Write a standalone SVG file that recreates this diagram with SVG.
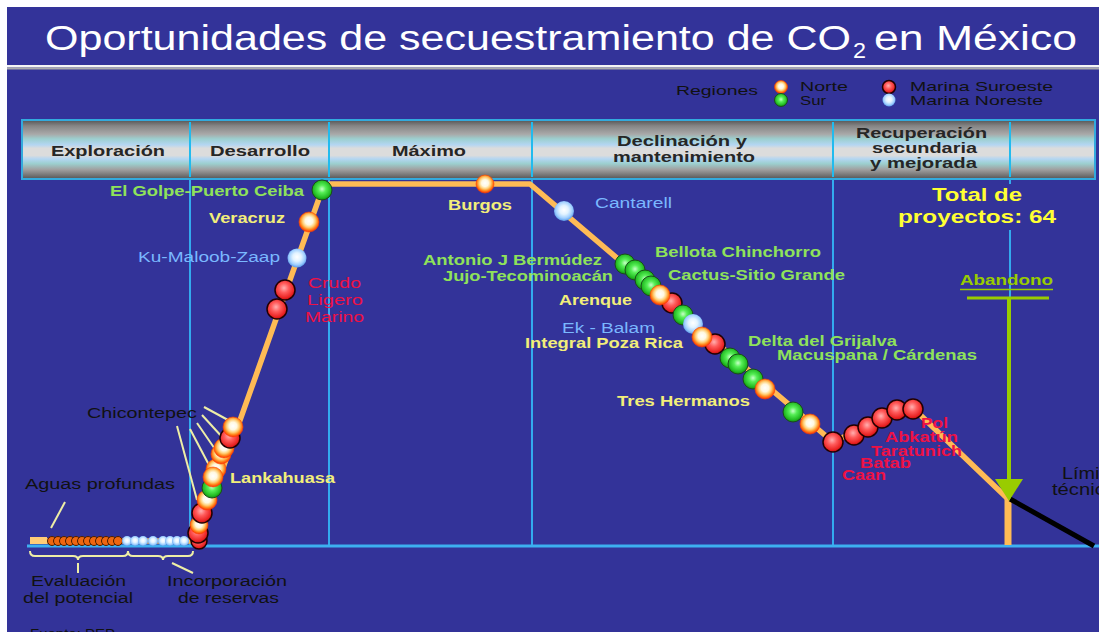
<svg xmlns="http://www.w3.org/2000/svg" width="1099" height="632" viewBox="0 0 1099 632">
<defs>
  <linearGradient id="hdrG" x1="0" y1="0" x2="0" y2="1">
    <stop offset="0" stop-color="#555"/>
    <stop offset="0.1" stop-color="#858585"/>
    <stop offset="0.24" stop-color="#a9a9a9"/>
    <stop offset="0.32" stop-color="#9ccfcf"/>
    <stop offset="0.42" stop-color="#b4d6f2"/>
    <stop offset="0.48" stop-color="#dcdcdc"/>
    <stop offset="0.6" stop-color="#dcdcdc"/>
    <stop offset="0.66" stop-color="#b4d6f2"/>
    <stop offset="0.74" stop-color="#9ccfcf"/>
    <stop offset="0.84" stop-color="#a0a0a0"/>
    <stop offset="0.93" stop-color="#777"/>
    <stop offset="1" stop-color="#555"/>
  </linearGradient>
  <radialGradient id="gN" cx="0.5" cy="0.45" r="0.55">
    <stop offset="0" stop-color="#ffffff"/>
    <stop offset="0.35" stop-color="#fff8e0"/>
    <stop offset="0.58" stop-color="#ffd078"/>
    <stop offset="0.78" stop-color="#ff8a1e"/>
    <stop offset="1" stop-color="#ff2a00"/>
  </radialGradient>
  <radialGradient id="gS" cx="0.5" cy="0.45" r="0.55">
    <stop offset="0" stop-color="#c8ffc8"/>
    <stop offset="0.35" stop-color="#55ee55"/>
    <stop offset="0.8" stop-color="#22bb22"/>
    <stop offset="1" stop-color="#118811"/>
  </radialGradient>
  <radialGradient id="gR" cx="0.45" cy="0.4" r="0.6">
    <stop offset="0" stop-color="#ffb0b0"/>
    <stop offset="0.4" stop-color="#ff5a5a"/>
    <stop offset="0.85" stop-color="#e82020"/>
    <stop offset="1" stop-color="#b01010"/>
  </radialGradient>
  <radialGradient id="gB" cx="0.5" cy="0.45" r="0.55">
    <stop offset="0" stop-color="#ffffff"/>
    <stop offset="0.4" stop-color="#e2f3ff"/>
    <stop offset="0.75" stop-color="#9fcfff"/>
    <stop offset="1" stop-color="#5b9be8"/>
  </radialGradient>
</defs>
<style>
  text { font-family: "Liberation Sans", Arial, sans-serif; }
  .lb { font-size: 14px; font-weight: bold; }
  .ln { font-size: 14px; }
  .hdr { font-size: 15px; font-weight: bold; fill: #262626; }
  .g { fill: #8fe25a; }
  .y { fill: #f2ee7a; }
  .bl { fill: #7ab8ff; }
  .r { fill: #ee1144; }
  .k { fill: #111; }
  .n { fill: url(#gN); stroke: #ff4400; stroke-width: 1; stroke-opacity: 0.6; }
  .s { fill: url(#gS); stroke: #1a4d1a; stroke-width: 1; }
  .rd { fill: url(#gR); stroke: #220000; stroke-width: 1.5; }
  .nb { fill: url(#gB); }
  .sm { fill: #ee6611; stroke: #4a1e00; stroke-width: 1; }
  .grid { stroke: #33aaee; stroke-width: 2; }
  .sep { stroke: #22bbee; stroke-width: 2; }
  .tick { stroke: #eeeea6; stroke-width: 2; fill: none; }
</style>

<rect width="1099" height="632" fill="#ffffff"/>
<rect x="7" y="7" width="1092" height="625" fill="#333399"/>

<g id="title">
  <text x="45" y="50" font-size="35" fill="#ffffff" textLength="806" lengthAdjust="spacingAndGlyphs">Oportunidades de secuestramiento de CO</text>
  <text x="853" y="58" font-size="22" fill="#ffffff" textLength="13" lengthAdjust="spacingAndGlyphs">2</text>
  <text x="874" y="50" font-size="35" fill="#ffffff" textLength="203" lengthAdjust="spacingAndGlyphs">en México</text>
  <rect x="7" y="65" width="1092" height="2.5" fill="#f4f4f4"/>
  <rect x="7" y="67.5" width="1092" height="2" fill="#aaaaaa"/>
</g>

<g id="legend">
  <text x="676" y="95" font-size="13" class="k" textLength="82" lengthAdjust="spacingAndGlyphs">Regiones</text>
  <circle cx="781" cy="87" r="6.5" class="n"/>
  <circle cx="781" cy="100" r="6.5" class="s"/>
  <text x="800" y="91" font-size="13" class="k" textLength="48" lengthAdjust="spacingAndGlyphs">Norte</text>
  <text x="800" y="105" font-size="13" class="k" textLength="26" lengthAdjust="spacingAndGlyphs">Sur</text>
  <circle cx="889" cy="87" r="6.5" class="rd"/>
  <circle cx="889" cy="100" r="6.5" class="nb"/>
  <text x="910" y="91" font-size="13" class="k" textLength="143" lengthAdjust="spacingAndGlyphs">Marina Suroeste</text>
  <text x="910" y="105" font-size="13" class="k" textLength="133" lengthAdjust="spacingAndGlyphs">Marina Noreste</text>
</g>

<g id="header">
  <rect x="22" y="120" width="1073" height="59" fill="url(#hdrG)" stroke="#33aadd" stroke-width="2"/>
  <line class="sep" x1="190" y1="122" x2="190" y2="177"/>
  <line class="sep" x1="329" y1="122" x2="329" y2="177"/>
  <line class="sep" x1="532" y1="122" x2="532" y2="177"/>
  <line class="sep" x1="833" y1="122" x2="833" y2="177"/>
  <line class="sep" x1="1010" y1="122" x2="1010" y2="177"/>
  <text class="hdr" x="51" y="156" textLength="114" lengthAdjust="spacingAndGlyphs">Exploración</text>
  <text class="hdr" x="210" y="156" textLength="100" lengthAdjust="spacingAndGlyphs">Desarrollo</text>
  <text class="hdr" x="392" y="156" textLength="74" lengthAdjust="spacingAndGlyphs">Máximo</text>
  <text class="hdr" x="617" y="146" textLength="130" lengthAdjust="spacingAndGlyphs">Declinación y</text>
  <text class="hdr" x="613" y="162" textLength="142" lengthAdjust="spacingAndGlyphs">mantenimiento</text>
  <text class="hdr" x="856" y="138" textLength="131" lengthAdjust="spacingAndGlyphs">Recuperación</text>
  <text class="hdr" x="872" y="153" textLength="105" lengthAdjust="spacingAndGlyphs">secundaria</text>
  <text class="hdr" x="870" y="168" textLength="107" lengthAdjust="spacingAndGlyphs">y mejorada</text>
</g>

<g id="grid">
  <line class="grid" x1="190" y1="180" x2="190" y2="545"/>
  <line class="grid" x1="329" y1="180" x2="329" y2="545"/>
  <line class="grid" x1="532" y1="180" x2="532" y2="545"/>
  <line class="grid" x1="833" y1="180" x2="833" y2="545"/>
  <line class="grid" x1="1010" y1="180" x2="1010" y2="184"/>
  <line class="grid" x1="1010" y1="230" x2="1010" y2="545"/>
  <line x1="27" y1="546" x2="1099" y2="546" stroke="#3db0f0" stroke-width="3"/>
</g>

<g id="connectors">
  <rect x="30" y="537" width="17" height="7" fill="#ffcc77"/>
  <path d="M47,541 L197,541 L322,190 L330,184 L530,184 L833,442 C860,432 880,406 913,408 L1008,499" fill="none" stroke="#ffbb55" stroke-width="5.5" stroke-linejoin="round"/>
  <line x1="1008" y1="499" x2="1008" y2="545" stroke="#ffbb55" stroke-width="7"/>
  <line x1="1010" y1="499" x2="1094" y2="546" stroke="#000000" stroke-width="5"/>
  <line x1="967" y1="298" x2="1049" y2="298" stroke="#99cc00" stroke-width="3"/>
  <line x1="1009" y1="298" x2="1009" y2="482" stroke="#99cc00" stroke-width="4"/>
  <polygon points="995,479 1023,479 1009,501" fill="#99cc00"/>
  <line class="tick" x1="204" y1="407" x2="228" y2="420"/>
  <line class="tick" x1="202" y1="415" x2="223" y2="438"/>
  <line class="tick" x1="197" y1="423" x2="217" y2="452"/>
  <line class="tick" x1="190" y1="429" x2="209" y2="465"/>
  <line class="tick" x1="177" y1="426" x2="197" y2="500"/>
  <line class="tick" x1="65" y1="502" x2="51" y2="528"/>
  <path class="tick" d="M30,551 Q30,556 35,556 L73,556 Q78,556 78,560 Q78,556 83,556 L123,556 Q128,556 128,551"/>
  <path class="tick" d="M128,551 Q128,556 133,556 L158,556 Q163,556 163,560 Q163,556 168,556 L188,556 Q193,556 193,551"/>
  <line class="tick" x1="78" y1="563" x2="78" y2="573"/>
  <line class="tick" x1="172" y1="563" x2="193" y2="573"/>
</g>

<g id="n-evaluacion">
  <circle class="sm" cx="52" cy="541" r="4.5"/>
  <circle class="sm" cx="58" cy="541" r="4.5"/>
  <circle class="sm" cx="64" cy="541" r="4.5"/>
  <circle class="sm" cx="70" cy="541" r="4.5"/>
  <circle class="sm" cx="76" cy="541" r="4.5"/>
  <circle class="sm" cx="82" cy="541" r="4.5"/>
  <circle class="sm" cx="88" cy="541" r="4.5"/>
  <circle class="sm" cx="94" cy="541" r="4.5"/>
  <circle class="sm" cx="100" cy="541" r="4.5"/>
  <circle class="sm" cx="106" cy="541" r="4.5"/>
  <circle class="sm" cx="112" cy="541" r="4.5"/>
  <circle class="sm" cx="118" cy="541" r="4.5"/>
  <text class="ln k" x="31" y="586" font-size="15" textLength="95" lengthAdjust="spacingAndGlyphs">Evaluación</text>
  <text class="ln k" x="23" y="603" font-size="15" textLength="110" lengthAdjust="spacingAndGlyphs">del potencial</text>
</g>
<g id="n-incorporacion">
  <circle class="nb" cx="127" cy="541" r="5"/>
  <circle class="nb" cx="135" cy="541" r="5"/>
  <circle class="nb" cx="143" cy="541" r="5"/>
  <circle class="nb" cx="153" cy="541" r="5"/>
  <circle class="nb" cx="163" cy="541" r="5"/>
  <circle class="nb" cx="170" cy="541" r="5"/>
  <circle class="nb" cx="177" cy="541" r="5"/>
  <circle class="nb" cx="184" cy="541" r="5"/>
  <text class="ln k" x="167" y="586" font-size="15" textLength="120" lengthAdjust="spacingAndGlyphs">Incorporación</text>
  <text class="ln k" x="178" y="603" font-size="15" textLength="101" lengthAdjust="spacingAndGlyphs">de reservas</text>
</g>
<g id="n-aguas">
  <text class="ln k" x="25" y="489" textLength="150" lengthAdjust="spacingAndGlyphs">Aguas profundas</text>
</g>
<g id="n-fuente">
  <text class="k" x="30" y="638" font-size="13" textLength="85" lengthAdjust="spacingAndGlyphs">Fuente: PEP</text>
</g>

<g id="n-chicontepec">
  <circle class="rd" cx="199" cy="541" r="8"/>
  <circle class="rd" cx="198" cy="533" r="10"/>
  <circle class="n" cx="199" cy="525" r="9"/>
  <circle class="rd" cx="202" cy="513" r="10"/>
  <circle class="n" cx="207" cy="500" r="10"/>
  <circle class="n" cx="216" cy="469" r="10"/>
  <circle class="n" cx="221" cy="454" r="10"/>
  <circle class="n" cx="224" cy="448" r="10"/>
  <circle class="rd" cx="230" cy="438" r="10"/>
  <circle class="n" cx="233" cy="427" r="10"/>
  <text class="ln k" x="87" y="418" textLength="110" lengthAdjust="spacingAndGlyphs">Chicontepec</text>
</g>
<g id="n-lankahuasa">
  <circle class="s" cx="212" cy="488" r="10"/>
  <circle class="n" cx="213" cy="477" r="10"/>
  <text class="lb y" x="230" y="483" textLength="105" lengthAdjust="spacingAndGlyphs">Lankahuasa</text>
</g>
<g id="n-crudo">
  <circle class="rd" cx="277" cy="309" r="10"/>
  <circle class="rd" cx="285" cy="290" r="10"/>
  <text class="ln r" x="308" y="288" font-size="15" textLength="53" lengthAdjust="spacingAndGlyphs">Crudo</text>
  <text class="ln r" x="307" y="305" font-size="15" textLength="56" lengthAdjust="spacingAndGlyphs">Ligero</text>
  <text class="ln r" x="305" y="322" font-size="15" textLength="59" lengthAdjust="spacingAndGlyphs">Marino</text>
</g>
<g id="n-ku">
  <circle class="nb" cx="297" cy="258" r="9.5"/>
  <text class="ln bl" x="138" y="262" textLength="142" lengthAdjust="spacingAndGlyphs">Ku-Maloob-Zaap</text>
</g>
<g id="n-veracruz">
  <circle class="n" cx="309" cy="222" r="10"/>
  <text class="lb y" x="209" y="223" textLength="76" lengthAdjust="spacingAndGlyphs">Veracruz</text>
</g>
<g id="n-golpe">
  <circle class="s" cx="322" cy="190" r="10"/>
  <text class="lb g" x="110" y="196" textLength="194" lengthAdjust="spacingAndGlyphs">El Golpe-Puerto Ceiba</text>
</g>
<g id="n-burgos">
  <circle class="n" cx="485" cy="184" r="9"/>
  <text class="lb y" x="448" y="210" textLength="64" lengthAdjust="spacingAndGlyphs">Burgos</text>
</g>
<g id="n-cantarell">
  <circle class="nb" cx="564" cy="211" r="10"/>
  <text class="ln bl" x="595" y="208" font-size="15" textLength="77" lengthAdjust="spacingAndGlyphs">Cantarell</text>
</g>
<g id="n-bermudez">
  <circle class="s" cx="625" cy="264" r="10"/>
  <text class="lb g" x="423" y="265" textLength="179" lengthAdjust="spacingAndGlyphs">Antonio J Bermúdez</text>
</g>
<g id="n-jujo">
  <circle class="s" cx="635" cy="270" r="10"/>
  <text class="lb g" x="443" y="281" textLength="170" lengthAdjust="spacingAndGlyphs">Jujo-Tecominoacán</text>
</g>
<g id="n-bellota">
  <circle class="s" cx="645" cy="280" r="10"/>
  <text class="lb g" x="655" y="257" textLength="166" lengthAdjust="spacingAndGlyphs">Bellota Chinchorro</text>
</g>
<g id="n-cactus">
  <circle class="s" cx="651" cy="286" r="10"/>
  <text class="lb g" x="668" y="280" textLength="177" lengthAdjust="spacingAndGlyphs">Cactus-Sitio Grande</text>
</g>
<g id="n-arenque">
  <circle class="rd" cx="672" cy="303" r="10"/>
  <circle class="n" cx="660" cy="295" r="10"/>
  <text class="lb y" x="559" y="305" textLength="73" lengthAdjust="spacingAndGlyphs">Arenque</text>
</g>
<g id="n-ekbalam">
  <circle class="s" cx="683" cy="315" r="10"/>
  <circle class="nb" cx="693" cy="324" r="10"/>
  <text class="ln bl" x="562" y="333" font-size="15" textLength="93" lengthAdjust="spacingAndGlyphs">Ek - Balam</text>
</g>
<g id="n-pozarica">
  <circle class="rd" cx="715" cy="344" r="10"/>
  <circle class="n" cx="702" cy="337" r="10"/>
  <text class="lb y" x="525" y="348" textLength="158" lengthAdjust="spacingAndGlyphs">Integral Poza Rica</text>
</g>
<g id="n-delta">
  <circle class="s" cx="730" cy="358" r="10"/>
  <circle class="s" cx="738" cy="364" r="10"/>
  <text class="lb g" x="748" y="346" textLength="149" lengthAdjust="spacingAndGlyphs">Delta del Grijalva</text>
</g>
<g id="n-macuspana">
  <circle class="s" cx="753" cy="379" r="10"/>
  <text class="lb g" x="777" y="360" textLength="200" lengthAdjust="spacingAndGlyphs">Macuspana / Cárdenas</text>
</g>
<g id="n-treshermanos">
  <circle class="n" cx="765" cy="389" r="10"/>
  <circle class="s" cx="793" cy="412" r="10"/>
  <circle class="n" cx="810" cy="424" r="10"/>
  <text class="lb y" x="617" y="406" textLength="133" lengthAdjust="spacingAndGlyphs">Tres Hermanos</text>
</g>
<g id="n-caan">
  <circle class="rd" cx="833" cy="442" r="10"/>
  <text class="lb r" x="842" y="480" textLength="44" lengthAdjust="spacingAndGlyphs">Caan</text>
</g>
<g id="n-batab">
  <circle class="rd" cx="854" cy="435" r="10"/>
  <text class="lb r" x="860" y="468" textLength="51" lengthAdjust="spacingAndGlyphs">Batab</text>
</g>
<g id="n-taratunich">
  <circle class="rd" cx="868" cy="427" r="10"/>
  <text class="lb r" x="871" y="456" textLength="91" lengthAdjust="spacingAndGlyphs">Taratunich</text>
</g>
<g id="n-abkatun">
  <circle class="rd" cx="882" cy="418" r="10"/>
  <circle class="rd" cx="897" cy="410" r="10"/>
  <text class="lb r" x="885" y="442" textLength="73" lengthAdjust="spacingAndGlyphs">Abkatún</text>
</g>
<g id="n-pol">
  <circle class="rd" cx="913" cy="409" r="10"/>
  <text class="lb r" x="921" y="428" textLength="27" lengthAdjust="spacingAndGlyphs">Pol</text>
</g>

<g id="n-total">
  <text x="932" y="201" font-size="19" font-weight="bold" fill="#ffff33" textLength="90" lengthAdjust="spacingAndGlyphs">Total de</text>
  <text x="898" y="223" font-size="19" font-weight="bold" fill="#ffff33" textLength="158" lengthAdjust="spacingAndGlyphs">proyectos: 64</text>
</g>
<g id="n-abandono">
  <text class="lb" x="960" y="285" fill="#99cc00" textLength="93" lengthAdjust="spacingAndGlyphs">Abandono</text>
  <line x1="960" y1="289.5" x2="1053" y2="289.5" stroke="#99cc00" stroke-width="1.5"/>
</g>
<g id="n-limite">
  <text class="k" x="1062" y="479" font-size="17" textLength="54" lengthAdjust="spacingAndGlyphs">Límite</text>
  <text class="k" x="1052" y="495" font-size="17" textLength="64" lengthAdjust="spacingAndGlyphs">técnico</text>
</g>
</svg>
